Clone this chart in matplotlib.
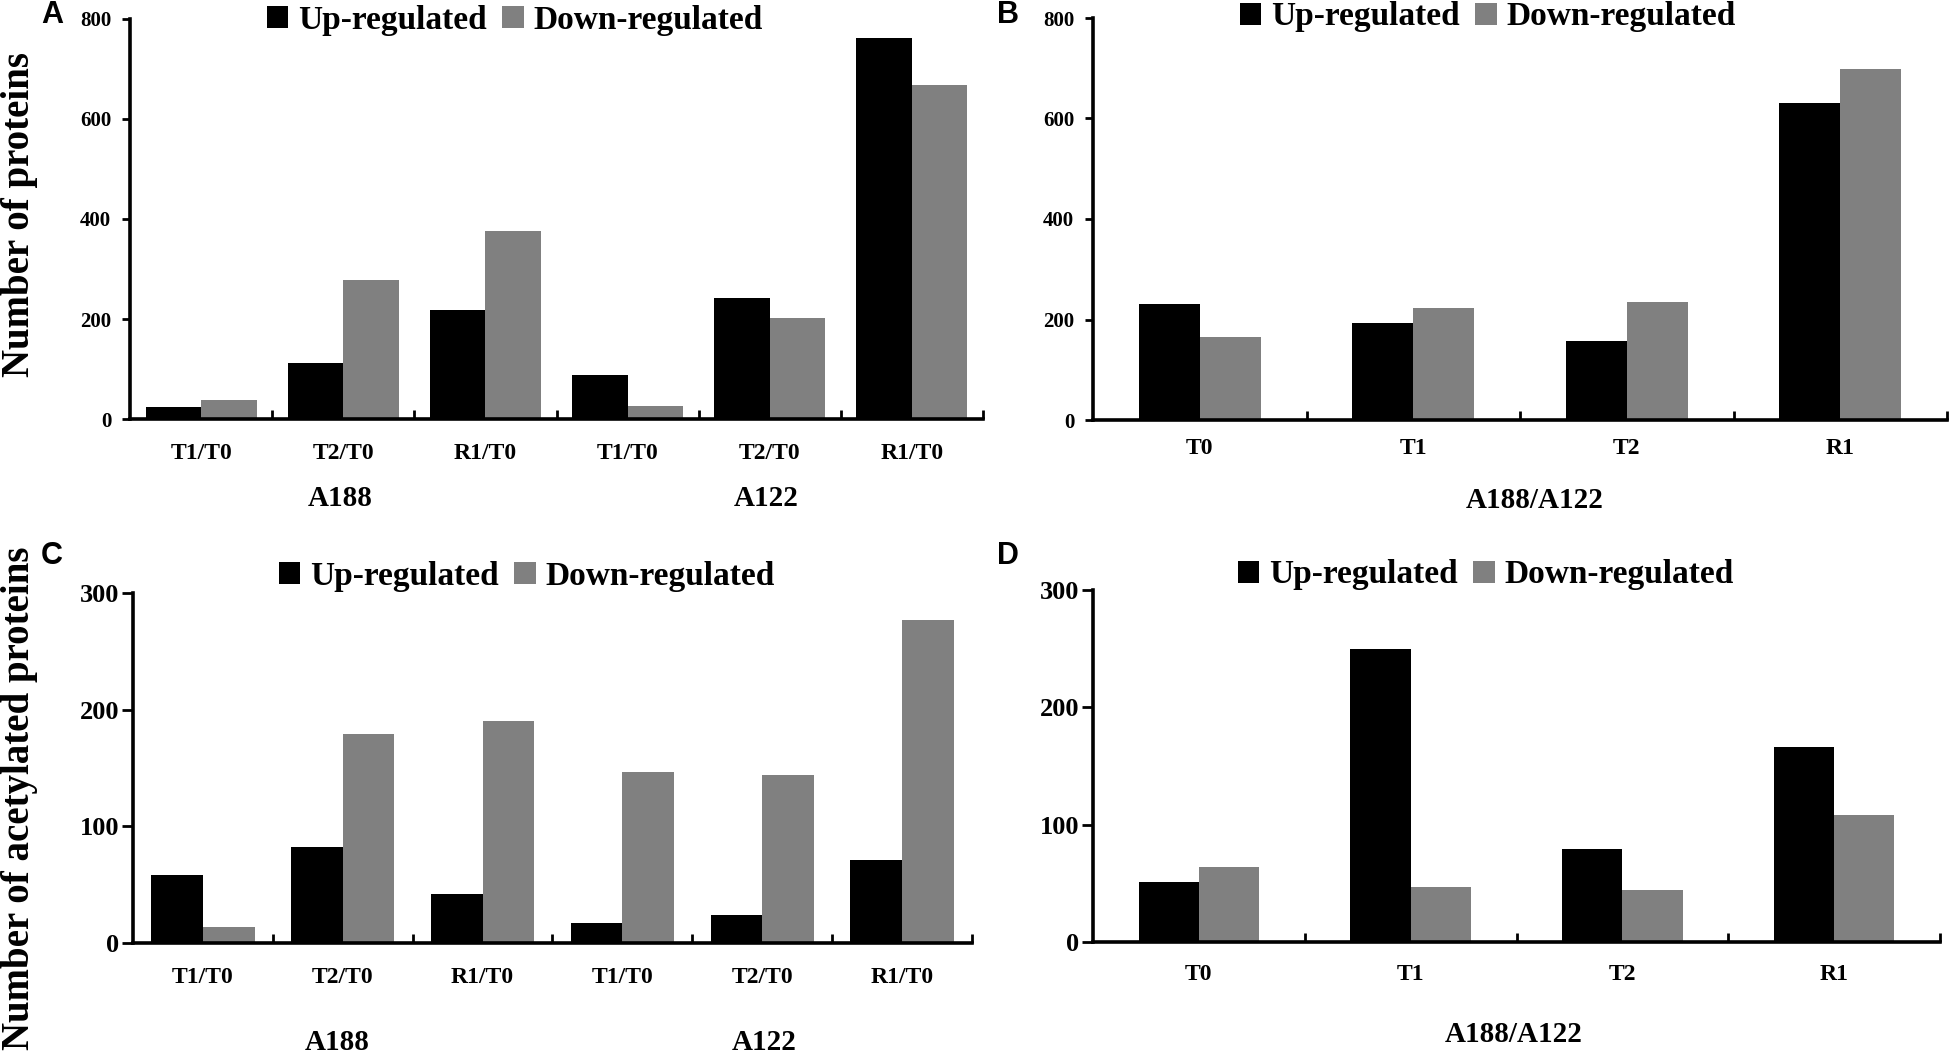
import matplotlib
matplotlib.use('Agg')
import matplotlib.pyplot as plt
import numpy as np

# values
ratio_labels = ['T1/T0', 'T2/T0', 'R1/T0', 'T1/T0', 'T2/T0', 'R1/T0']
stage_labels = ['T0', 'T1', 'T2', 'R1']
series_names = ['Up-regulated', 'Down-regulated']

a_up = [24, 113, 218, 89, 242, 763]
a_down = [38, 279, 376, 26, 202, 669]
b_up = [230, 194, 157, 630]
b_down = [165, 222, 234, 699]
c_up = [58, 82, 42, 17, 24, 71]
c_down = [14, 179, 190, 147, 144, 277]
d_up = [51, 250, 79, 166]
d_down = [64, 47, 44, 108]

W, H = 1950, 1060
SERIF = 'Liberation Serif'
SANS = 'Liberation Sans'

fig = plt.figure(figsize=(W / 100, H / 100), dpi=100)


def px(x, y):
    # pixel position (from top-left) to figure fraction
    return x / W, 1 - y / H


def panel(rect, labels, up, down, ymax, ystep, bar_w, tick_fs, xpad, ytick_len, ytick_pad):
    ax = fig.add_axes(rect)
    x = np.arange(len(labels))
    ax.bar(x - bar_w / 2, up, bar_w, color='black', label=series_names[0])
    ax.bar(x + bar_w / 2, down, bar_w, color='#808080', label=series_names[1])
    ax.set_xlim(-0.5, len(labels) - 0.5)
    ax.set_ylim(0, ymax)
    ax.set_yticks(np.arange(0, ymax + 1, ystep))
    ax.set_xticks(x)
    ax.set_xticklabels(labels)
    ax.set_xticks(np.arange(0.5, len(labels), 1.0), minor=True)
    for s in ['top', 'right']:
        ax.spines[s].set_visible(False)
    for s in ['left', 'bottom']:
        ax.spines[s].set_linewidth(2.6)
    ax.tick_params(axis='x', which='major', length=0, pad=xpad)
    ax.tick_params(axis='x', which='minor', direction='in', length=6.5, width=2)
    ax.tick_params(axis='y', direction='out', length=ytick_len, width=2, pad=ytick_pad)
    for t in ax.get_xticklabels():
        t.set_fontfamily(SERIF)
        t.set_fontweight('bold')
        t.set_fontsize(17)
    for t in ax.get_yticklabels():
        t.set_fontfamily(SERIF)
        t.set_fontweight('bold')
        t.set_fontsize(tick_fs)
    return ax


def legend(ax, cx, cy):
    fx, fy = px(cx, cy)
    ax.legend(loc='center', bbox_to_anchor=(fx, fy), bbox_transform=fig.transFigure,
              ncol=2, frameon=False, handlelength=0.65, handleheight=0.65,
              handletextpad=0.3, columnspacing=0.45, borderpad=0, borderaxespad=0,
              prop={'family': SERIF, 'weight': 'bold', 'size': 24})


def label(x, y, s, size=21, **kw):
    fx, fy = px(x, y)
    fig.text(fx, fy, s, ha='center', va='center', family=SERIF, weight='bold', fontsize=size, **kw)


def letter(x, y, s):
    fx, fy = px(x, y)
    fig.text(fx, fy, s, ha='left', va='top', family=SANS, weight='bold', fontsize=22)


# A
axA = panel([130 / W, 1 - 419 / H, 853 / W, 400 / H], ratio_labels, a_up, a_down,
            800, 200, 0.39, 15, 17, 5.5, 8)
legend(axA, 515, 20)
label(340, 498, 'A188')
label(766, 498, 'A122')
label(20, 214, 'Number of proteins', size=28, rotation=90)
letter(41, 0, 'A')

# B
axB = panel([1093 / W, 1 - 420 / H, 854 / W, 402 / H], stage_labels, b_up, b_down,
            800, 200, 0.285, 15, 13, 5.5, 8)
legend(axB, 1488, 17)
label(1535, 500, 'A188/A122')
letter(997, 0, 'B')

# C
axC = panel([133 / W, 1 - 943 / H, 839 / W, 350 / H], ratio_labels, c_up, c_down,
            300, 100, 0.37, 19, 17, 8, 2)
legend(axC, 527, 576)
label(337, 1042, 'A188')
label(764, 1042, 'A122')
label(20, 798, 'Number of acetylated proteins', size=28, rotation=90)
letter(41, 541, 'C')

# D
axD = panel([1093 / W, 1 - 942 / H, 847 / W, 352 / H], stage_labels, d_up, d_down,
            300, 100, 0.285, 19, 16, 8, 2)
legend(axD, 1486, 575)
label(1514, 1034, 'A188/A122')
letter(997, 541, 'D')

fig.savefig('out.png', dpi=100, facecolor='white')
